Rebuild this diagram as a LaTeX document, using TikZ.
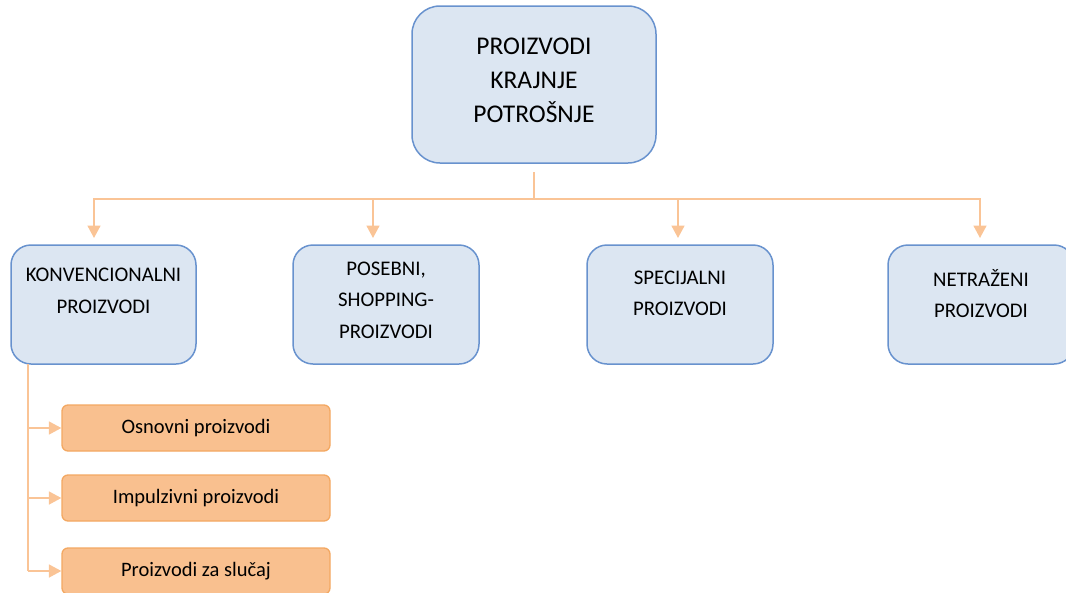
\documentclass[tikz,border=0pt]{standalone}
\usepackage{fontspec}
\setmainfont{Carlito}
\usetikzlibrary{arrows.meta}
\definecolor{bluefill}{RGB}{220,230,242}
\definecolor{blueline}{RGB}{104,146,206}
\definecolor{orfill}{RGB}{249,192,143}
\definecolor{orline}{RGB}{243,168,98}
\definecolor{conncol}{RGB}{250,196,150}
\tikzset{
  bluebox/.style={draw=blueline, fill=bluefill, line width=1.5pt, rounded corners=20pt},
  orbox/.style={draw=orline, fill=orfill, line width=1.3pt, rounded corners=6pt},
  toptxt/.style={align=center, font=\fontsize{25.5}{34}\selectfont, inner sep=0pt},
  midtxt/.style={align=center, font=\fontsize{20.8}{31.5}\selectfont, inner sep=0pt},
  ortxt/.style={font=\fontsize{20.5}{24}\selectfont, inner sep=0pt},
  conn/.style={draw=conncol, line width=1.7pt},
  arr/.style={conn, -{Triangle[width=13pt,length=12.5pt]}}
}
\begin{document}
\begin{tikzpicture}[x=1pt,y=-1pt]
\useasboundingbox (0,0) rectangle (1066,592);
\clip (0,0) rectangle (1066,592);
% boxes
\node[bluebox, minimum width=244pt, minimum height=157pt, rounded corners=28pt] (top) at (534,84.5) {};
\node[toptxt] (toptext) at (534,80) {PROIZVODI\\KRAJNJE\\POTROŠNJE};
\node[bluebox, minimum width=185pt, minimum height=119pt] (b1) at (103.5,304.5) {};
\node[bluebox, minimum width=186pt, minimum height=119pt] (b2) at (386,304.5) {};
\node[bluebox, minimum width=186pt, minimum height=119pt] (b3) at (680,304.5) {};
\node[bluebox, minimum width=186pt, minimum height=119pt] (b4) at (981,304.5) {};
\node[midtxt] (t1) at (103.5,291) {KONVENCIONALNI\\PROIZVODI};
\node[midtxt] (t2) at (386,300) {POSEBNI,\\SHOPPING-\\PROIZVODI};
\node[midtxt] (t3) at (680,293.5) {SPECIJALNI\\PROIZVODI};
\node[midtxt] (t4) at (981,293.5) {NETRAŽENI\\PROIZVODI};
\node[orbox, minimum width=268pt, minimum height=46pt] (o1) at (196,428) {};
\node[orbox, minimum width=268pt, minimum height=46pt] (o2) at (196,498) {};
\node[orbox, minimum width=268pt, minimum height=46pt] (o3) at (196,571) {};
\node[ortxt] (ot1) at (196,428) {Osnovni proizvodi};
\node[ortxt] (ot2) at (196,498) {Impulzivni proizvodi};
\node[ortxt] (ot3) at (196,571) {Proizvodi za slučaj};
% connectors top
\coordinate (stem) at (534,172);
\coordinate (bus) at (534,199);
\coordinate (a1) at (94,238);
\coordinate (a2) at (373,238);
\coordinate (a3) at (678,238);
\coordinate (a4) at (980,238);
\draw[conn] (stem) -- (bus);
\draw[arr] (bus) -| (a1);
\draw[arr] (bus) -| (a2);
\draw[arr] (bus) -| (a3);
\draw[arr] (bus) -| (a4);
% left tree
\coordinate (lt) at (28,364);
\coordinate (lb) at (28,571);
\draw[conn] (lt) -- (lb);
\draw[arr] (28,428) -- (o1.west);
\draw[arr] (28,498) -- (o2.west);
\draw[arr] (lb) -- (o3.west);
\end{tikzpicture}
\end{document}
